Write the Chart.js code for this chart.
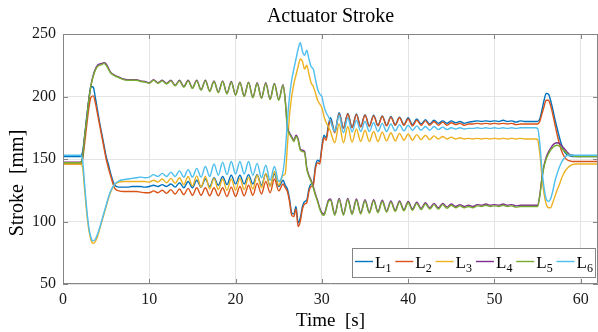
<!DOCTYPE html>
<html>
<head>
<meta charset="utf-8">
<script src="https://cdn.jsdelivr.net/npm/chart.js@4.4.1/dist/chart.umd.min.js"></script>
<style>
  html, body { margin: 0; padding: 0; background: #fff; }
</style>
</head>
<body>
<canvas id="canvas" width="598" height="332"></canvas>
<script>
// time samples [s] (finer where the strokes move fast)
var times = [
    0, 1, 2, 2.25, 2.5, 2.75, 3, 3.25, 3.5, 3.75, 4, 4.25, 4.5, 4.75, 5, 5.25, 5.5,
    6, 6.5, 7, 7.5, 8, 8.5, 9, 9.5, 10, 10.5,
    11, 11.5, 12, 12.5, 13, 13.5, 14, 14.5, 15, 15.5,
    16, 16.5, 17, 17.5, 18, 18.5, 19, 19.5, 20, 20.5,
    21, 21.5, 22, 22.5, 23, 23.5, 24, 24.5, 25, 25.5,
    25.75, 26, 26.25, 26.5, 26.75, 27, 27.25, 27.5, 27.75, 28, 28.25, 28.5, 28.75, 29, 29.25, 29.5, 29.75, 30, 30.25, 30.5, 30.75, 31,
    31.5, 32, 32.5, 33, 33.5, 34, 34.5, 35, 35.5, 36,
    36.5, 37, 37.5, 38, 38.5, 39, 39.5, 40, 40.5, 41,
    41.5, 42, 42.5, 43, 43.5, 44, 44.5, 45, 45.5, 46,
    46.5, 47, 47.5, 48, 48.5, 49, 49.5, 50, 50.5, 51,
    51.5, 52, 52.5, 53, 53.5, 54, 54.5,
    54.75, 55, 55.25, 55.5, 55.75, 56, 56.25, 56.5, 56.75, 57, 57.25, 57.5, 57.75, 58, 58.25, 58.5, 58.75, 59,
    59.5, 60, 61, 62
];

// stroke [mm]
var L1 = [
    152, 152, 152, 155, 168, 184, 198, 208, 207.5, 199, 189, 179, 170, 161, 152, 146, 139,
    129, 127.5, 127.5, 127.5, 128, 128, 128, 127.5, 128, 129,
    128, 129.5, 128, 130, 127.5, 131, 127, 132, 127, 133,
    127.5, 134, 128, 135, 129, 136, 129.5, 137, 130, 137,
    130, 137.5, 130, 137.5, 129, 138, 128.5, 138, 128, 133,
    129, 126, 118, 107, 106, 112, 99, 103, 112, 116, 117, 126, 130, 131, 144, 149, 148, 160, 169, 167, 177, 183,
    172, 187, 175, 186.5, 175.5, 186, 176, 185.5, 176.5, 185,
    177, 184.5, 177, 184, 177.5, 183.5, 177.5, 183, 177.5, 182,
    178, 181.5, 178, 181, 178.5, 180.5, 178.5, 180.5, 179, 180,
    178.5, 179.5, 180, 180.5, 180, 180.5, 180, 180.5, 180, 181,
    180, 180.5, 179.5, 180.5, 180, 180, 180,
    180, 180, 182, 189, 197, 202.5, 202, 197, 190, 182, 175, 168, 162, 157, 154.5, 153, 152.5, 152,
    152, 152, 152, 152
];
var L2 = [
    146, 146, 146, 149, 162, 177, 191, 199.5, 200.5, 195, 186, 177, 168, 159, 150, 143, 137,
    126.5, 124.5, 124, 124, 124, 124, 123.5, 123, 123, 124.5,
    123, 125, 122.5, 125.5, 122, 126, 121.5, 126.5, 121, 127,
    121, 127, 120.5, 127, 120.5, 127, 120, 127.5, 120, 128,
    120.5, 129, 121, 130.5, 122, 132, 123, 134, 124.5, 130,
    127, 124, 116, 105, 104, 110, 96, 100, 110, 114, 115, 124, 128, 129, 142, 147, 146, 158, 167, 165, 175, 181,
    171, 186, 174.5, 186, 175, 185.5, 175.5, 185, 176, 184.5,
    176.5, 184, 176.5, 183.5, 177, 183, 177, 182, 176.5, 181,
    177, 180.5, 177, 180, 177, 179.5, 177, 179, 177.5, 178.5,
    177, 178, 178, 178.5, 178, 178.5, 178, 178.5, 178, 178.5,
    178, 178.5, 177.5, 178, 178, 178, 178,
    178, 178, 180, 186, 192, 197, 197, 193, 186, 178, 170, 163, 157, 153, 150.5, 149, 148.5, 148,
    148, 148, 148, 148
];
var L3 = [
    146, 146, 146, 144, 126, 107, 93, 85, 82.5, 84, 88, 94, 100, 106, 112, 118, 123,
    129.5, 131.5, 132, 132, 132, 132, 132, 132, 131.5, 133,
    131.5, 134, 131, 134.5, 130.5, 135, 129.5, 136, 128.5, 136.5,
    127.5, 136, 126, 134.5, 125.5, 134, 125, 134, 125, 134.5,
    125.5, 135.5, 126, 137, 127, 138.5, 128, 140, 129, 137,
    138, 160, 185, 200, 210, 217, 224, 230, 228, 222, 225, 218, 211, 208, 203, 197, 194, 191, 184, 179, 176, 172,
    163, 178, 163, 176, 163.5, 174, 164, 173, 164, 172,
    164, 171.5, 164.5, 171, 164.5, 170.5, 165, 170, 165, 169.5,
    165.5, 169, 165.5, 168.5, 166, 168, 166, 167.5, 166, 167,
    166, 166.5, 166, 166.5, 166, 166.5, 166, 166.5, 166, 166.5,
    166, 166.5, 166, 166.5, 166, 166, 166,
    166, 165.5, 155, 136, 122, 114, 111, 111, 115, 120, 125, 129, 134, 138, 141, 143, 144.5, 145.5,
    146, 146, 146, 146
];
var L4 = [
    147.5, 147.5, 147.5, 150.5, 167.5, 182.5, 198, 209.5, 217, 222, 225, 226, 226.5, 227, 226, 223, 219.5,
    217, 215.5, 214, 213.5, 213.5, 213.5, 212.5, 212, 211, 213.5,
    211, 213, 210.5, 213, 209, 213, 208, 213, 207, 213,
    205.5, 213, 204.5, 212.5, 203.5, 212.5, 202.5, 212, 201.5, 211.5,
    200.5, 211.5, 199.5, 211, 199, 211, 198, 210.5, 197.5, 209.5,
    197.5, 176, 171, 168, 165, 169, 166, 158, 157, 156, 143, 137, 133, 128, 122, 117, 111, 107, 106, 111, 117, 118,
    106, 118.5, 106, 118.5, 106.5, 118, 107, 117.5, 107.5, 117.5,
    108, 117, 108.5, 116.5, 109, 116.5, 109.5, 116, 110, 115.5,
    110.5, 115, 111, 114.5, 111, 114.5, 111.5, 114, 112, 113.5,
    112, 113, 112, 113.5, 113, 114, 113, 113.5, 113, 114,
    113, 113.5, 112.5, 113, 113, 113, 113,
    113, 113, 121, 135, 145, 151.5, 155.5, 158.5, 161, 162.5, 163, 162.5, 161, 159, 157, 155, 153.5, 153,
    152.5, 152.5, 152.5, 152.5
];
var L5 = [
    147, 147, 147, 150, 167, 182, 197.5, 209, 216, 221, 224, 225, 225.5, 226.5, 225, 222, 219,
    216.5, 215, 213.5, 213, 213, 213, 212, 211.5, 210.5, 213,
    210.5, 212.5, 210, 212.5, 208.5, 212.5, 207.5, 212.5, 206.5, 212.5,
    205, 212.5, 204, 212, 203, 212, 202, 211.5, 201, 211,
    200, 211, 199, 210.5, 198.5, 210.5, 197.5, 210, 197, 209,
    197, 175, 170, 167, 164, 168, 165, 157, 156, 155, 142, 136, 132, 127, 121, 116, 110, 106, 105, 110, 116, 117,
    105, 117.5, 105, 117.5, 105.5, 117, 106, 116.5, 106.5, 116.5,
    107, 116, 107.5, 115.5, 108, 115.5, 108.5, 115, 109, 114.5,
    109.5, 114, 110, 113.5, 110, 113.5, 110.5, 113, 111, 112.5,
    111, 112, 111, 112.5, 112, 113, 112, 112.5, 112, 113,
    112, 112.5, 111.5, 112, 112, 112, 112,
    112, 112, 120, 134, 144, 150, 154, 157, 159, 160.5, 161, 160.5, 159, 157, 155.5, 154, 153, 152.5,
    152, 152, 152, 152
];
var L6 = [
    153, 153, 153, 150, 130, 110, 95, 87, 84.5, 86, 90, 95, 101, 107, 113, 119, 124,
    130, 132.5, 133.5, 134, 134.5, 135, 135.5, 135, 135.5, 137.5,
    136, 138.5, 136, 139.5, 136, 140.5, 135.5, 141.5, 135.5, 142.5,
    135.5, 144, 136, 146, 137, 147.5, 137.5, 148, 138, 148,
    138, 148, 137, 146.5, 135, 145, 133, 144, 132, 140,
    155, 180, 200, 213, 222, 230, 238, 243, 236, 233, 237, 230, 224, 222, 214, 206, 202, 200, 192, 187, 184, 180,
    172, 185, 171, 183, 171.5, 181, 172, 180, 172, 179,
    172, 178.5, 172, 178, 172.5, 177.5, 172.5, 177, 173, 176.5,
    173, 176, 173, 176, 173.5, 175.5, 173.5, 175, 174, 175,
    174, 174.5, 174.5, 175, 174.5, 175, 174.5, 175, 174.5, 175,
    174.5, 175, 174.5, 175, 175, 175, 175,
    175, 174.5, 163, 142, 127, 118, 116, 118, 124, 132, 138, 143, 147, 150, 152, 153, 153, 153,
    153, 153, 153, 153
];

var seriesNames = ['1', '2', '3', '4', '5', '6'];
var seriesColors = ['#0072BD', '#D95319', '#EDB120', '#7E2F8E', '#77AC30', '#4DBEEE'];
var xTicks = [0, 10, 20, 30, 40, 50, 60];
var yTicks = [50, 100, 150, 200, 250];

var SERIF = '"Liberation Serif", "Times New Roman", serif';
var AXIS = '#858585';
var GRID = '#e4e4e4';

// box round the axes with inward ticks, and the y label, like the original figure
var framePlugin = {
    id: 'frame',
    afterDatasetsDraw: function (chart) {
        var ctx = chart.ctx, a = chart.chartArea;
        var x = chart.scales.x, y = chart.scales.y;
        ctx.save();
        ctx.strokeStyle = AXIS;
        ctx.lineWidth = 1;
        ctx.beginPath();
        ctx.rect(a.left + 0.5, a.top + 0.5, a.right - a.left - 1, a.bottom - a.top - 1);
        xTicks.forEach(function (v) {
            var px = Math.round(x.getPixelForValue(v)) + 0.5;
            ctx.moveTo(px, a.bottom); ctx.lineTo(px, a.bottom - 5);
            ctx.moveTo(px, a.top); ctx.lineTo(px, a.top + 5);
        });
        yTicks.forEach(function (v) {
            var py = Math.round(y.getPixelForValue(v)) + 0.5;
            ctx.moveTo(a.left, py); ctx.lineTo(a.left + 5, py);
            ctx.moveTo(a.right, py); ctx.lineTo(a.right - 5, py);
        });
        ctx.stroke();

        // y axis label sits a bit below the middle in the original
        ctx.translate(18, 183);
        ctx.rotate(-Math.PI / 2);
        ctx.fillStyle = '#000';
        ctx.font = '20px ' + SERIF;
        ctx.textAlign = 'center';
        ctx.textBaseline = 'middle';
        ctx.fillText('Stroke  [mm]', 0, 0);
        ctx.restore();
    }
};

// horizontal legend with subscripts, bottom right inside the axes
var legendPlugin = {
    id: 'subLegend',
    afterDraw: function (chart) {
        var ctx = chart.ctx;
        var bx = 352, by = 248, bw = 243, bh = 29;
        ctx.save();
        ctx.fillStyle = '#fff';
        ctx.fillRect(bx, by, bw, bh);
        ctx.strokeStyle = AXIS;
        ctx.lineWidth = 1;
        ctx.strokeRect(bx + 0.5, by + 0.5, bw, bh);
        chart.data.datasets.forEach(function (ds, i) {
            var x0 = bx + 3 + i * 40.3;
            var ly = by + 13.5;
            ctx.strokeStyle = ds.borderColor;
            ctx.lineWidth = 1.4;
            ctx.beginPath();
            ctx.moveTo(x0, ly); ctx.lineTo(x0 + 18, ly);
            ctx.stroke();
            ctx.fillStyle = '#000';
            ctx.textBaseline = 'alphabetic';
            ctx.font = '17px ' + SERIF;
            ctx.fillText('L', x0 + 20, by + 20);
            ctx.font = '12px ' + SERIF;
            ctx.fillText(seriesNames[i], x0 + 30.5, by + 24);
        });
        ctx.restore();
    }
};

window.onload = function () {
    var ctx = document.getElementById("canvas").getContext("2d");
    var series = [L1, L2, L3, L4, L5, L6];
    var datasets = series.map(function (vals, i) {
        return {
            label: 'L' + seriesNames[i],
            data: vals,
            borderColor: seriesColors[i],
            borderWidth: 1.4,
            pointRadius: 0,
            cubicInterpolationMode: 'monotone',
            fill: false,
            order: 5 - i
        };
    });

    window.StrokeChart = new Chart(ctx, {
        type: 'line',
        data: { labels: times, datasets: datasets },
        plugins: [framePlugin, legendPlugin],
        options: {
            responsive: false,
            animation: false,
            events: [],
            layout: { padding: 0 },
            plugins: {
                legend: { display: false },
                tooltip: { enabled: false },
                title: {
                    display: true,
                    fullSize: false,
                    text: 'Actuator Stroke',
                    color: '#000',
                    font: { family: SERIF, size: 20, weight: 'normal' },
                    padding: { top: 5, bottom: 5 }
                }
            },
            scales: {
                x: {
                    type: 'linear',
                    min: 0,
                    max: 62,
                    afterBuildTicks: function (s) { s.ticks = xTicks.map(function (v) { return { value: v }; }); },
                    afterFit: function (s) { s.height = 48; },
                    grid: { color: GRID, drawTicks: false },
                    border: { display: false },
                    ticks: { padding: 6, maxRotation: 0, color: '#1a1a1a', font: { family: SERIF, size: 16 } },
                    title: {
                        display: true,
                        text: 'Time  [s]',
                        color: '#000',
                        font: { family: SERIF, size: 19 },
                        padding: { top: 0, bottom: 0 }
                    }
                },
                y: {
                    min: 50,
                    max: 250,
                    afterBuildTicks: function (s) { s.ticks = yTicks.map(function (v) { return { value: v }; }); },
                    afterFit: function (s) { s.width = 63; },
                    grid: { color: GRID, drawTicks: false },
                    border: { display: false },
                    ticks: { padding: 7, color: '#1a1a1a', font: { family: SERIF, size: 16 } }
                }
            }
        }
    });
};
</script>
</body>
</html>
